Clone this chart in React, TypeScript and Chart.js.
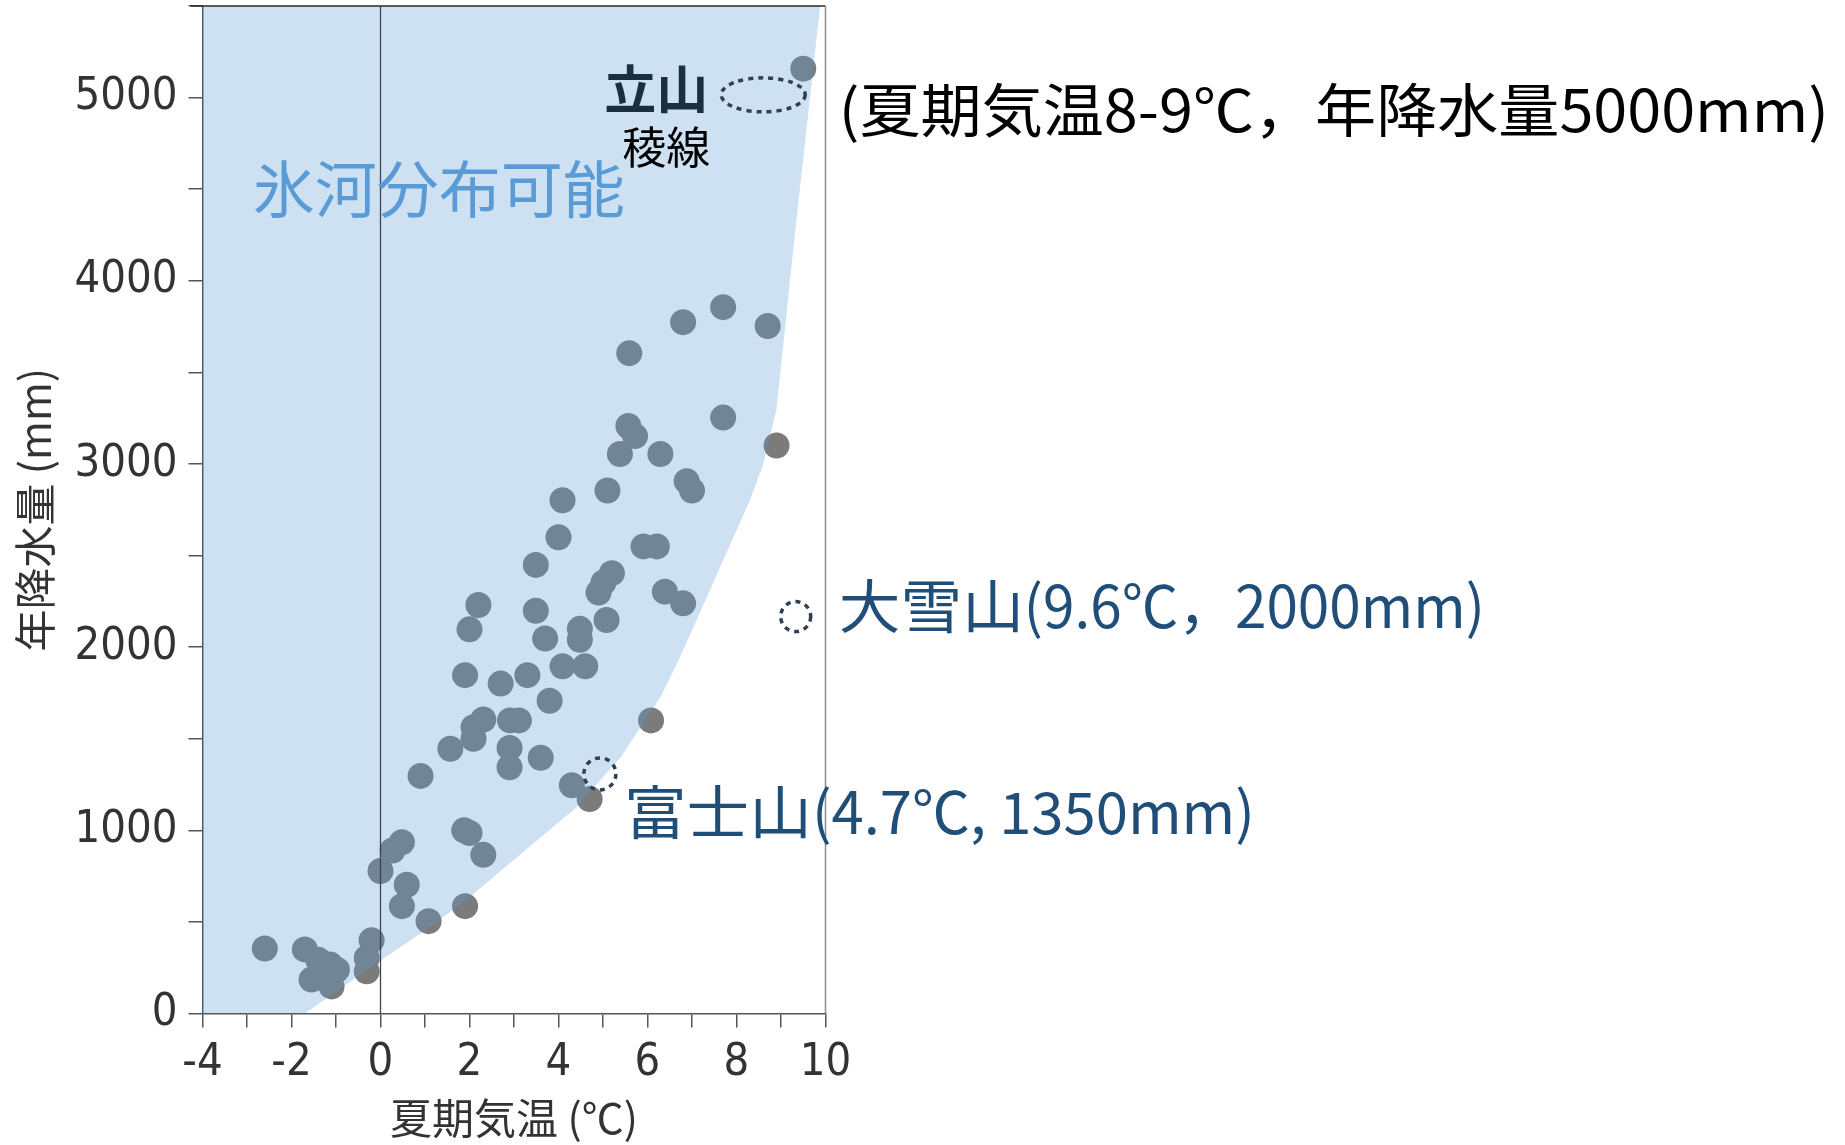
import { useEffect, useRef } from 'react';
import { Chart, registerables } from 'chart.js';

Chart.register(...registerables);

// ---- data ----
const tempC = [
  -2.6, -1.7, -1.4, -1.13, -0.98, -1.55, -1.1, -0.2, -0.31, -0.31,
  0.0, 0.27, 0.48, 0.59, 0.48, 1.08, 0.9, 1.88, 2.0, 2.31,
  1.9, 1.57, 2.09, 2.09, 2.31, 2.91, 3.11, 2.9, 2.9, 3.6,
  4.3, 4.7, 6.08, 3.8, 1.9, 2.7, 3.3, 4.09, 4.6, 2.0,
  2.2, 3.49, 3.7, 4.48, 4.48, 5.08, 3.49, 4.0, 4.09, 4.9,
  5.01, 5.2, 5.91, 6.21, 6.39, 6.8, 5.1, 5.38, 6.29, 5.57,
  5.72, 6.88, 7.0, 7.7, 8.9, 5.59, 6.8, 7.7, 8.7, 9.5,
];
const precipMm = [
  355, 350, 294, 267, 239, 185, 148, 400, 303, 230,
  778, 890, 935, 703, 586, 504, 1297, 1000, 985, 866,
  586, 1445, 1563, 1500, 1605, 1600, 1600, 1450, 1344, 1396,
  1246, 1171, 1600, 1707, 1847, 1801, 1847, 1896, 1896, 2097,
  2230, 2199, 2047, 2100, 2040, 2148, 2449, 2600, 2802, 2298,
  2353, 2404, 2550, 2550, 2303, 2239, 2855, 3054, 3054, 3207,
  3152, 2906, 2855, 3253, 3101, 3605, 3774, 3856, 3753, 5158,
];

// boundary of the "glacier possible" region (area above/left of this line)
const boundaryT = [-4, -1.7, 0, 1.1, 1.9, 3.0, 4.4, 5.4, 6.3, 6.7, 7.2, 7.6, 8.3, 8.6, 8.9, 9.3, 9.88];
const boundaryP = [0, 0, 290, 470, 614, 840, 1125, 1400, 1730, 1930, 2200, 2420, 2800, 3000, 3300, 4230, 5500];

const xMin = -4;
const xMax = 10;
const yMin = 0;
const yMax = 5500;
const xLabelStep = 2;
const yLabelStep = 1000;

const xTitle = '夏期気温 (℃)';
const yTitle = '年降水量 (mm)';
const regionLabel = '氷河分布可能';

// dotted marker circles: Tateyama ridge, Fuji, Daisetsu
const markerT = [8.6, 4.93, 9.33];
const markerP = [5015, 1308, 2167];
const markerRx = [42, 16, 15];
const markerRy = [17, 16, 15];

const CJK = "'Noto Sans CJK JP', 'Noto Sans CJK SC', sans-serif";
const NARROW = "'Liberation Sans Narrow', 'DejaVu Sans Condensed', 'Roboto', sans-serif";

type Seg = { text: string; size: number; weight?: string; color: string; width?: number };

function drawSegs(ctx: CanvasRenderingContext2D, segs: Seg[], xLeft: number, yMid: number) {
  let x = xLeft;
  for (const s of segs) {
    ctx.font = `${s.weight || 'normal'} ${s.size}px ${CJK}`;
    const w = ctx.measureText(s.text).width;
    const target = s.width ?? w;
    const sx = target / w;
    ctx.save();
    ctx.translate(x, yMid);
    ctx.scale(sx, 1);
    ctx.fillStyle = s.color;
    ctx.textBaseline = 'middle';
    ctx.textAlign = 'left';
    ctx.fillText(s.text, 0, 0);
    ctx.restore();
    x += target;
  }
}

const annotations = {
  id: 'annotations',
  afterDatasetsDraw(chart: any) {
    const { ctx, chartArea, scales } = chart;
    const xs = scales.x;
    const ys = scales.y;
    ctx.save();
    // top border
    ctx.strokeStyle = '#2a2a2a';
    ctx.lineWidth = 1.5;
    ctx.beginPath();
    ctx.moveTo(chartArea.left - 12, chartArea.top);
    ctx.lineTo(chartArea.right, chartArea.top);
    ctx.stroke();
    // right border
    ctx.strokeStyle = '#8c8c8c';
    ctx.lineWidth = 1.5;
    ctx.beginPath();
    ctx.moveTo(chartArea.right, chartArea.top);
    ctx.lineTo(chartArea.right, chartArea.bottom);
    ctx.stroke();

    // dotted markers
    ctx.strokeStyle = '#2e3f56';
    ctx.lineWidth = 3.5;
    ctx.setLineDash([5, 5]);
    for (let i = 0; i < markerT.length; i++) {
      const cx = xs.getPixelForValue(markerT[i]);
      const cy = ys.getPixelForValue(markerP[i]);
      ctx.beginPath();
      ctx.ellipse(cx, cy, markerRx[i], markerRy[i], 0, 0, Math.PI * 2);
      ctx.stroke();
    }
    ctx.setLineDash([]);

    const px = (t: number) => xs.getPixelForValue(t);
    const py = (p: number) => ys.getPixelForValue(p);

    drawSegs(ctx, [{ text: regionLabel, size: 62, color: '#5b9bd5' }], px(-2.87), py(4500));
    drawSegs(ctx, [{ text: '立山', size: 52, weight: 'bold', color: '#1b2e42' }], px(5.03), py(5045));
    drawSegs(ctx, [{ text: '稜線', size: 44, color: '#000000' }], px(5.43), py(4730));
    drawSegs(ctx, [{ text: '(夏期気温8-9℃，年降水量5000mm)', size: 58, color: '#000000', width: 990 }], px(10.3), py(4935));
    drawSegs(
      ctx,
      [
        { text: '大雪山', size: 58, color: '#1f4e79', width: 185 },
        { text: '(9.6℃，2000mm)', size: 58, color: '#1f4e79', width: 461 },
      ],
      px(10.3),
      py(2225),
    );
    drawSegs(
      ctx,
      [
        { text: '富士山', size: 58, color: '#1f4e79', width: 188 },
        { text: '(4.7℃, 1350mm)', size: 58, color: '#1f4e79', width: 443 },
      ],
      px(5.47),
      py(1100),
    );
    ctx.restore();
  },
};

export default function App() {
  const ref = useRef<HTMLCanvasElement | null>(null);

  useEffect(() => {
    document.body.style.margin = '0';
    const canvas = ref.current;
    if (!canvas) return;

    const points = tempC.map((t, i) => ({ x: t, y: precipMm[i] }));
    const boundary = boundaryT.map((t, i) => ({ x: t, y: boundaryP[i] }));

    const chart = new Chart(canvas, {
      type: 'scatter',
      data: {
        datasets: [
          {
            type: 'line',
            label: '0℃',
            data: [
              { x: 0, y: yMin },
              { x: 0, y: yMax },
            ],
            borderColor: '#3b4654',
            borderWidth: 1.3,
            pointRadius: 0,
            fill: false,
            order: 0,
          } as any,
          {
            type: 'line',
            label: regionLabel,
            data: boundary,
            fill: 'end',
            backgroundColor: 'rgba(91,155,213,0.3)',
            borderColor: 'rgba(0,0,0,0)',
            borderWidth: 0,
            pointRadius: 0,
            tension: 0,
            order: 1,
          } as any,
          {
            type: 'scatter',
            label: '観測点',
            data: points,
            backgroundColor: '#7b7b7b',
            borderWidth: 0,
            pointRadius: 13,
            pointHoverRadius: 13,
            order: 2,
          } as any,
        ],
      },
      options: {
        animation: false,
        responsive: false,
        events: [],
        layout: { autoPadding: false, padding: { left: 0, right: 1845 - 825.5, top: 6, bottom: 0 } },
        plugins: { legend: { display: false }, tooltip: { enabled: false } },
        scales: {
          x: {
            type: 'linear',
            min: xMin,
            max: xMax,
            ticks: {
              stepSize: 1,
              autoSkip: false,
              maxRotation: 0,
              padding: 9,
              color: '#333333',
              font: { family: NARROW, size: 45 },
              callback: (v: any) => (Number(v) % xLabelStep === 0 ? String(v) : ''),
            },
            grid: { drawOnChartArea: false, drawTicks: true, tickLength: 14, color: '#555555', lineWidth: 1.5 },
            border: { color: '#555555', width: 1.5 },
            title: {
              display: true,
              text: xTitle,
              color: '#333333',
              font: { family: CJK, size: 42 },
              padding: { top: 0, bottom: 2 },
            },
            afterFit: (s: any) => {
              s.height = 131.5;
              s.paddingLeft = 0;
              s.paddingRight = 0;
            },
          },
          y: {
            type: 'linear',
            min: yMin,
            max: yMax,
            ticks: {
              stepSize: 500,
              autoSkip: false,
              padding: 11,
              color: '#333333',
              font: { family: NARROW, size: 45 },
              callback: (v: any) => (Number(v) % yLabelStep === 0 ? String(v) : ''),
            },
            grid: { drawOnChartArea: false, drawTicks: true, tickLength: 14, color: '#555555', lineWidth: 1.5 },
            border: { color: '#4a5563', width: 1.5 },
            title: {
              display: true,
              text: yTitle,
              color: '#333333',
              font: { family: CJK, size: 42 },
              padding: { top: 10, bottom: 0 },
            },
            afterFit: (s: any) => {
              s.width = 202.5;
              s.paddingTop = 0;
              s.paddingBottom = 0;
            },
          },
        },
      } as any,
      plugins: [annotations],
    });

    return () => chart.destroy();
  }, []);

  return <canvas ref={ref} width={1845} height={1145} style={{ display: 'block' }} />;
}
